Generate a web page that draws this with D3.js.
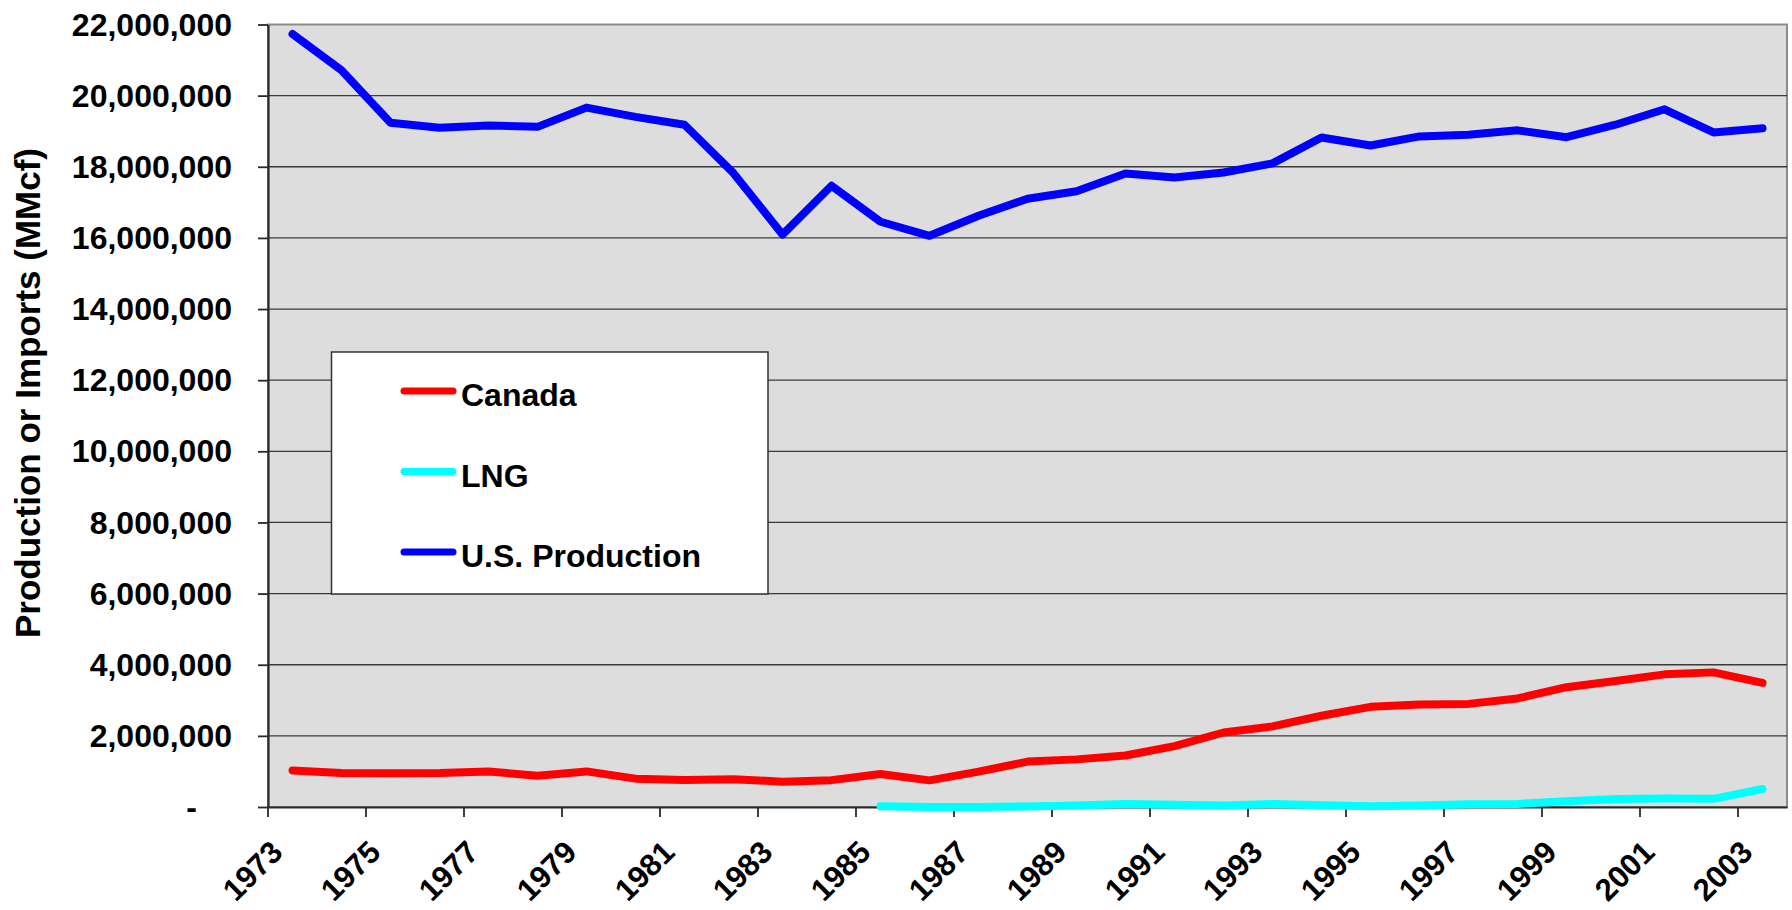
<!DOCTYPE html>
<html>
<head>
<meta charset="utf-8">
<script src="https://cdn.jsdelivr.net/npm/d3@7"></script>
<style>
    body { margin: 0; background: #ffffff; }
    svg text { font-family: "Liberation Sans", Arial, sans-serif; font-weight: bold; fill: #000000; }
</style>
</head>
<body>
<div id="chart"></div>
<script>
(function () {
    'use strict';

    var years = [1973, 1974, 1975, 1976, 1977, 1978, 1979, 1980, 1981, 1982, 1983,
        1984, 1985, 1986, 1987, 1988, 1989, 1990, 1991, 1992, 1993, 1994, 1995,
        1996, 1997, 1998, 1999, 2000, 2001, 2002, 2003];

    var canada = [1028000, 959000, 948000, 954000, 997000, 881000, 1001000, 797000,
        762000, 783000, 712000, 755000, 926000, 749000, 993000, 1276000, 1339000,
        1448000, 1710000, 2094000, 2267000, 2566000, 2816000, 2883000, 2899000,
        3052000, 3368000, 3544000, 3729000, 3785000, 3490000];

    var lng = [null, null, null, null, null, null, null, null, null, null, null, null,
        24000, 2000, 0, 17000, 42000, 84000, 64000, 43000, 82000, 51000, 18000,
        40000, 78000, 85000, 163000, 226000, 238000, 229000, 507000];

    var usProduction = [21731000, 20713000, 19236000, 19098000, 19163000, 19122000,
        19663000, 19403000, 19181000, 17820000, 16094000, 17466000, 16454000,
        16059000, 16621000, 17103000, 17311000, 17810000, 17698000, 17840000,
        18095000, 18821000, 18599000, 18854000, 18902000, 19024000, 18832000,
        19182000, 19616000, 18964000, 19080000];

    var yTicks = [0, 2000000, 4000000, 6000000, 8000000, 10000000, 12000000,
        14000000, 16000000, 18000000, 20000000, 22000000];
    var xTickYears = [1973, 1975, 1977, 1979, 1981, 1983, 1985, 1987, 1989, 1991,
        1993, 1995, 1997, 1999, 2001, 2003];

    var series = [
        { name: 'Canada', values: canada, color: '#FF0000' },
        { name: 'LNG', values: lng, color: '#00FFFF' },
        { name: 'U.S. Production', values: usProduction, color: '#0000FF' }
    ];

    var width = 1792;
    var height = 910;
    var plot = { left: 268, right: 1787, top: 24.5, bottom: 807 };
    var lineWidth = 8;

    var svg = d3.select('#chart').append('svg')
        .attr('width', width)
        .attr('height', height);

    var x = d3.scaleBand()
        .domain(years)
        .range([plot.left, plot.right])
        .padding(0);
    var bw = x.bandwidth();

    var y = d3.scaleLinear()
        .domain([0, 22000000])
        .range([plot.bottom, plot.top]);

    // plot background
    svg.append('rect')
        .attr('x', plot.left)
        .attr('y', plot.top)
        .attr('width', plot.right - plot.left)
        .attr('height', plot.bottom - plot.top)
        .style('fill', '#DDDDDD')
        .style('stroke', '#8C8C8C')
        .style('stroke-width', 2);

    // gridlines
    svg.append('g').selectAll('line')
        .data(yTicks.filter(function (d) { return d > 0 && d < 22000000; }))
        .enter().append('line')
        .attr('x1', plot.left)
        .attr('x2', plot.right)
        .attr('y1', function (d) { return y(d); })
        .attr('y2', function (d) { return y(d); })
        .style('stroke', '#3A3A3A')
        .style('stroke-width', 1.3);

    var numFmt = d3.format(',');

    var yAxis = svg.append('g')
        .attr('transform', 'translate(' + plot.left + ',0)')
        .call(d3.axisLeft(y)
            .tickValues(yTicks)
            .tickSize(10)
            .tickSizeOuter(0)
            .tickPadding(26)
            .tickFormat(function (d) { return d === 0 ? '-' : numFmt(d); }));
    yAxis.selectAll('text')
        .style('font-size', '32px')
        .attr('dy', '0.33em')
        .filter(function (d) { return d === 0; })
        .attr('dx', -35);

    var xAxis = svg.append('g')
        .attr('transform', 'translate(0,' + plot.bottom + ')')
        .call(d3.axisBottom(x)
            .tickValues(xTickYears)
            .tickSize(10)
            .tickSizeOuter(0)
            .tickFormat(function (d) { return String(d); }));
    xAxis.selectAll('.tick line')
        .attr('transform', 'translate(' + (-bw / 2) + ',0)');
    xAxis.selectAll('.tick text')
        .style('font-size', '31px')
        .attr('text-anchor', 'end')
        .attr('y', 0)
        .attr('dy', 0)
        .attr('transform', 'translate(-8,47) rotate(-45)');

    [yAxis, xAxis].forEach(function (ax) {
        ax.select('.domain').style('stroke', '#2A2A2A').style('stroke-width', 2.2);
        ax.selectAll('.tick line').style('stroke', '#2A2A2A').style('stroke-width', 1.8);
    });

    // y axis title
    svg.append('text')
        .attr('transform', 'translate(40,393) rotate(-90)')
        .attr('text-anchor', 'middle')
        .style('font-size', '35px')
        .text('Production or Imports (MMcf)');

    var line = d3.line()
        .defined(function (d) { return d.v !== null; })
        .x(function (d) { return x(d.year) + bw / 2; })
        .y(function (d) { return y(d.v); });

    svg.append('g').selectAll('path')
        .data(series)
        .enter().append('path')
        .attr('d', function (s) {
            return line(years.map(function (yr, i) { return { year: yr, v: s.values[i] }; }));
        })
        .style('fill', 'none')
        .style('stroke', function (s) { return s.color; })
        .style('stroke-width', lineWidth)
        .style('stroke-linejoin', 'round')
        .style('stroke-linecap', 'round');

    // legend
    var legend = svg.append('g');
    legend.append('rect')
        .attr('x', 331.5)
        .attr('y', 352)
        .attr('width', 436.5)
        .attr('height', 242)
        .style('fill', '#FFFFFF')
        .style('stroke', '#333333')
        .style('stroke-width', 1.5);

    var items = legend.selectAll('g.item')
        .data(series)
        .enter().append('g')
        .attr('class', 'item')
        .attr('transform', function (s, i) { return 'translate(0,' + (391 + i * 80.5) + ')'; });
    items.append('line')
        .attr('x1', 404)
        .attr('x2', 453)
        .style('stroke', function (s) { return s.color; })
        .style('stroke-width', 7)
        .style('stroke-linecap', 'round');
    items.append('text')
        .attr('x', 461)
        .attr('y', 15)
        .style('font-size', '32px')
        .text(function (s) { return s.name; });
})();
</script>
</body>
</html>
